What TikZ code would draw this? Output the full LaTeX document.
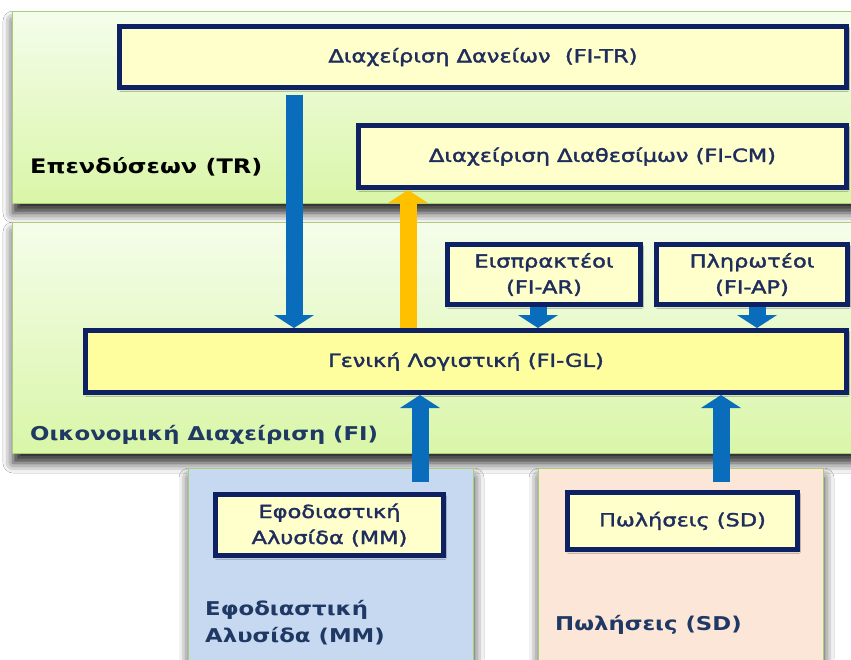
\documentclass[tikz,border=0pt]{standalone}
\usepackage{fontspec}
\setmainfont[FakeStretch=1.2]{DejaVu Sans}
\newfontfamily\boxfont[FakeStretch=1.25, FakeBold=2]{DejaVu Sans}
\usetikzlibrary{arrows.meta, shadows.blur}
\definecolor{panelline}{HTML}{A8CE78}
\definecolor{greentop}{HTML}{F5FDEB}
\definecolor{greenbot}{HTML}{D9F6A8}
\definecolor{mmfill}{HTML}{C6D9F0}
\definecolor{sdfill}{HTML}{FCE6D8}
\definecolor{boxline}{HTML}{0E2163}
\definecolor{boxfill}{HTML}{FFFFCC}
\definecolor{glfill}{HTML}{FEFE9E}
\definecolor{boxtext}{HTML}{1F2D5C}
\definecolor{labelblue}{HTML}{1F3864}
\definecolor{arrowblue}{HTML}{0A6DBC}
\definecolor{arrowyellow}{HTML}{FFC000}

\begin{document}
\begin{tikzpicture}[x=1pt, y=-1pt,
    panel/.style = {draw=panelline, line width=1pt, blur shadow={shadow xshift=1pt, shadow yshift=-10pt, shadow blur radius=10pt, shadow opacity=85}},
    greenpanel/.style = {panel, top color=greentop, bottom color=greenbot},
    modbox/.style = {draw=boxline, line width=5pt, fill=boxfill, text=boxtext, align=center, inner sep=0pt,
        font=\boxfont\fontsize{18}{26}\selectfont, blur shadow={shadow xshift=1pt, shadow yshift=-2pt, shadow blur radius=2pt, shadow opacity=30}},
    panellabel/.style = {anchor=west, align=left, inner sep=0pt, font=\bfseries\fontsize{19}{27}\selectfont},
    bluearrow/.style = {draw=arrowblue, line width=17pt, -{Triangle[width=40pt, length=13pt, line width=0pt]}},
    yelarrow/.style = {bluearrow, draw=arrowyellow}]
    \clip (0,0) rectangle (851,659);
    \fill[white] (0,0) rectangle (851,659);

    \path[greenpanel] (12,11) rectangle (870,203);
    \path[greenpanel] (12,222) rectangle (870,453);
    \path[panel, fill=mmfill] (188,468) rectangle (473,690);
    \path[panel, fill=sdfill] (538,468) rectangle (823,690);

    \node[panellabel, text=black, font=\bfseries\fontsize{20}{27}\selectfont] (trlabel) at (30,167) {Επενδύσεων (TR)};
    \node[panellabel, text=labelblue] (filabel) at (30,435) {Οικονομική Διαχείριση (FI)};
    \node[panellabel, text=labelblue] (mmlabel) at (205,623) {Εφοδιαστική\\Αλυσίδα (MM)};
    \node[panellabel, text=labelblue] (sdlabel) at (555,625) {Πωλήσεις (SD)};

    \node[modbox, minimum width=727, minimum height=61] (tr) at (483,57) {Διαχείριση Δανείων\ \ (FI-TR)};
    \node[modbox, minimum width=488, minimum height=62] (cm) at (602.5,156.5) {Διαχείριση Διαθεσίμων (FI-CM)};
    \node[modbox, minimum width=193, minimum height=60] (ar) at (544,274.5) {Εισπρακτέοι\\(FI-AR)};
    \node[modbox, minimum width=191, minimum height=60] (ap) at (752,274.5) {Πληρωτέοι\\(FI-AP)};
    \node[modbox, fill=glfill, minimum width=761, minimum height=62] (gl) at (466,361.5) {Γενική Λογιστική (FI-GL)};
    \node[modbox, minimum width=228, minimum height=61] (mm) at (329.5,525) {Εφοδιαστική\\Αλυσίδα (MM)};
    \node[modbox, minimum width=230, minimum height=57] (sd) at (682.5,521) {Πωλήσεις (SD)};

    \coordinate (trdown) at (294,95);
    \coordinate (glup) at (408,328);
    \coordinate (mmup) at (420,482);
    \coordinate (sdup) at (721,482);
    \draw[bluearrow] (trdown) -- (trdown |- gl.north);
    \draw[yelarrow] (glup) -- (glup |- cm.south);
    \draw[bluearrow] ([xshift=-6pt]ar.south) -- ([xshift=-6pt]ar.south |- gl.north);
    \draw[bluearrow] ([xshift=5pt]ap.south) -- ([xshift=5pt]ap.south |- gl.north);
    \draw[bluearrow] (mmup) -- (mmup |- gl.south);
    \draw[bluearrow] (sdup) -- (sdup |- gl.south);
\end{tikzpicture}
\end{document}
